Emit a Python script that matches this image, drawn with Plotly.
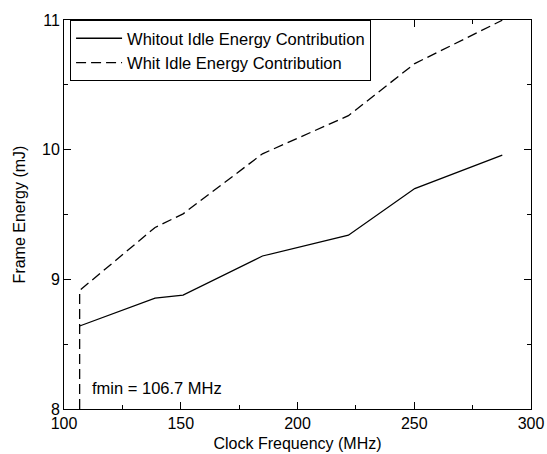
import plotly.graph_objects as go

# Data
freq_mhz = [106.7, 139.0, 151.0, 185.0, 221.8, 250.2, 287.7]
energy_without_idle = [8.64, 8.855, 8.878, 9.18, 9.34, 9.70, 9.958]
energy_with_idle = [8.914, 9.40, 9.505, 9.968, 10.262, 10.664, 10.998]
series_names = ["Whitout Idle Energy Contribution", "Whit Idle Energy Contribution"]
x_range = [100, 300]
y_range = [8, 11]
x_ticks = [100, 150, 200, 250, 300]
y_ticks = [8, 9, 10, 11]
fmin_label = "fmin = 106.7 MHz"

FONT = "Liberation Sans, Arial, Helvetica, sans-serif"

fig = go.Figure()
fig.add_trace(go.Scatter(
    x=freq_mhz, y=energy_without_idle, mode="lines", name=series_names[0],
    line=dict(color="black", width=1.3),
))
# dashed series, with drop line from the first point down to the axis minimum
fig.add_trace(go.Scatter(
    x=[freq_mhz[0]] + freq_mhz, y=[y_range[0]] + energy_with_idle,
    mode="lines", name=series_names[1],
    line=dict(color="black", width=1.3, dash="10px,5px"),
))

fig.add_annotation(
    x=freq_mhz[0], y=y_range[0], xref="x", yref="y", text=fmin_label,
    showarrow=False, xanchor="left", yanchor="middle", xshift=10, yshift=21,
    font=dict(family=FONT, size=16.5, color="black"),
)

axis_common = dict(
    showgrid=False, zeroline=False, showline=True, linecolor="black", linewidth=1,
    mirror="allticks", ticks="inside", ticklen=7, tickwidth=1, tickcolor="black",
    tickfont=dict(family=FONT, size=16, color="black"), automargin=False,
)
fig.update_xaxes(
    range=x_range, tickvals=x_ticks,
    title=dict(text="Clock Frequency (MHz)", font=dict(family=FONT, size=16, color="black"), standoff=6),
    minor=dict(dtick=25, ticks="inside", ticklen=4, tickcolor="black", tickwidth=1),
    **axis_common,
)
fig.update_yaxes(
    range=y_range, tickvals=y_ticks,
    title=dict(text="Frame Energy (mJ)", font=dict(family=FONT, size=16, color="black"), standoff=12),
    minor=dict(dtick=0.5, ticks="inside", ticklen=4, tickcolor="black", tickwidth=1),
    **axis_common,
)

fig.update_layout(
    width=547, height=454,
    margin=dict(l=64, r=16, t=20, b=45, autoexpand=False),
    paper_bgcolor="white", plot_bgcolor="white",
    font=dict(family=FONT, size=16, color="black"),
    showlegend=True,
    legend=dict(
        x=0.013, y=1.0, xanchor="left", yanchor="top",
        bgcolor="white", bordercolor="black", borderwidth=1,
        font=dict(family=FONT, size=16.5, color="black"),
        tracegroupgap=0, itemwidth=46,
    ),
)

fig.write_html("out.html")
